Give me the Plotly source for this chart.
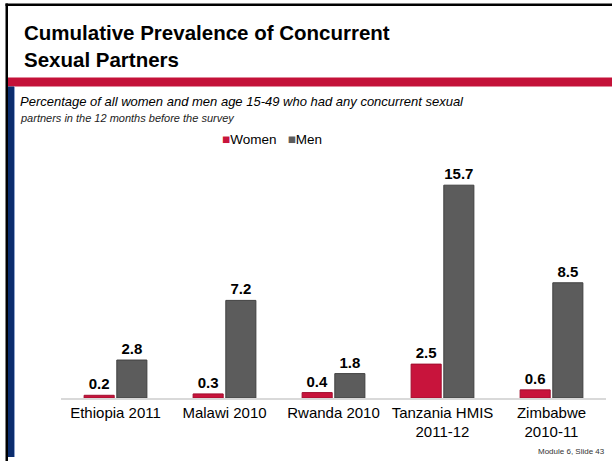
import plotly.graph_objects as go

countries = ["Ethiopia 2011", "Malawi 2010", "Rwanda 2010", "Tanzania HMIS<br>2011-12", "Zimbabwe<br>2010-11"]
women = [0.2, 0.3, 0.4, 2.5, 0.6]
men = [2.8, 7.2, 1.8, 15.7, 8.5]

W, H = 612, 461
L, R, T, B = 61, 6, 154, 63
RED = "#C8143C"
GREY = "#5C5C5C"
FONT = "Liberation Sans, Arial, sans-serif"


# paper coords are relative to the plot area, so convert from page pixels
def px_x(x):
    return (x - L) / (W - L - R)


def px_y(y):
    return (H - B - y) / (H - T - B)


fig = go.Figure()
fig.add_trace(
    go.Bar(
        x=countries,
        y=women,
        name="Women",
        marker=dict(color=RED, line=dict(color="#A00E2E", width=1)),
        text=[f"<b>{v:.1f}</b>" for v in women],
        textposition="outside",
        textfont=dict(size=15, color="#000000", family=FONT),
        cliponaxis=False,
    )
)
fig.add_trace(
    go.Bar(
        x=countries,
        y=men,
        name="Men",
        marker=dict(color=GREY, line=dict(color="#404040", width=1)),
        text=[f"<b>{v:.1f}</b>" for v in men],
        textposition="outside",
        textfont=dict(size=15, color="#000000", family=FONT),
        cliponaxis=False,
    )
)

shapes = [
    # top black border
    dict(type="rect", xref="paper", yref="paper", x0=px_x(5.5), x1=px_x(W), y0=px_y(6), y1=px_y(3.5),
         fillcolor="#000000", line=dict(width=0)),
    # left black border
    dict(type="rect", xref="paper", yref="paper", x0=px_x(5.5), x1=px_x(8), y0=px_y(H), y1=px_y(3.5),
         fillcolor="#000000", line=dict(width=0)),
    # red band
    dict(type="rect", xref="paper", yref="paper", x0=px_x(8), x1=px_x(W), y0=px_y(86.5), y1=px_y(77.5),
         fillcolor="#C41239", line=dict(width=0)),
    # blue side bar
    dict(type="rect", xref="paper", yref="paper", x0=px_x(8), x1=px_x(14), y0=px_y(457), y1=px_y(86.5),
         fillcolor="#0B2D6E", line=dict(width=0)),
    dict(type="rect", xref="paper", yref="paper", x0=px_x(14), x1=px_x(15), y0=px_y(457), y1=px_y(86.5),
         fillcolor="#8FA3CC", line=dict(width=0)),
]

legend_text = (
    f'<span style="color:{RED}">■</span>Women   '
    f'<span style="color:{GREY}">■</span>Men'
)

annotations = [
    dict(text="<b>Cumulative Prevalence of Concurrent<br>Sexual Partners</b>", x=px_x(22), y=px_y(46),
         xanchor="left", yanchor="middle", align="left", showarrow=False,
         font=dict(size=20.5, color="#000000", family=FONT)),
    dict(text="<i>Percentage of all women and men age 15-49 who had any concurrent sexual</i>",
         x=px_x(18), y=px_y(101), xanchor="left", yanchor="middle", showarrow=False,
         font=dict(size=13, color="#000000", family=FONT)),
    dict(text="<i>partners in the 12 months before the survey</i>",
         x=px_x(18), y=px_y(118), xanchor="left", yanchor="middle", showarrow=False,
         font=dict(size=11, color="#222222", family=FONT)),
    dict(text=legend_text, x=px_x(272), y=px_y(139), xanchor="center", yanchor="middle",
         showarrow=False, font=dict(size=13.5, color="#000000", family=FONT)),
    dict(text="Module 6, Slide 43", x=px_x(607), y=px_y(451), xanchor="right", yanchor="middle",
         showarrow=False, font=dict(size=8, color="#333333", family=FONT)),
]
for a in annotations:
    a["xref"] = "paper"
    a["yref"] = "paper"

fig.update_layout(
    width=W,
    height=H,
    margin=dict(l=L, r=R, t=T, b=B, autoexpand=False),
    paper_bgcolor="#FFFFFF",
    plot_bgcolor="#FFFFFF",
    barmode="group",
    bargap=0.4,
    bargroupgap=0.08,
    font=dict(family=FONT, color="#000000"),
    showlegend=False,
    xaxis=dict(
        automargin=False,
        showline=True,
        linecolor="#D9D9D9",
        linewidth=1.5,
        ticks="",
        tickfont=dict(size=15, family=FONT, color="#000000"),
        showgrid=False,
    ),
    yaxis=dict(
        automargin=False,
        range=[0, 18],
        visible=False,
        showgrid=False,
        zeroline=False,
    ),
    shapes=shapes,
    annotations=annotations,
)

# the page body has a default 8px margin; drop it so the slide sits at the corner
fig.write_html(
    "out.html",
    config={"displayModeBar": False},
    post_script="document.body.style.margin='0';document.body.style.overflow='hidden';",
)
